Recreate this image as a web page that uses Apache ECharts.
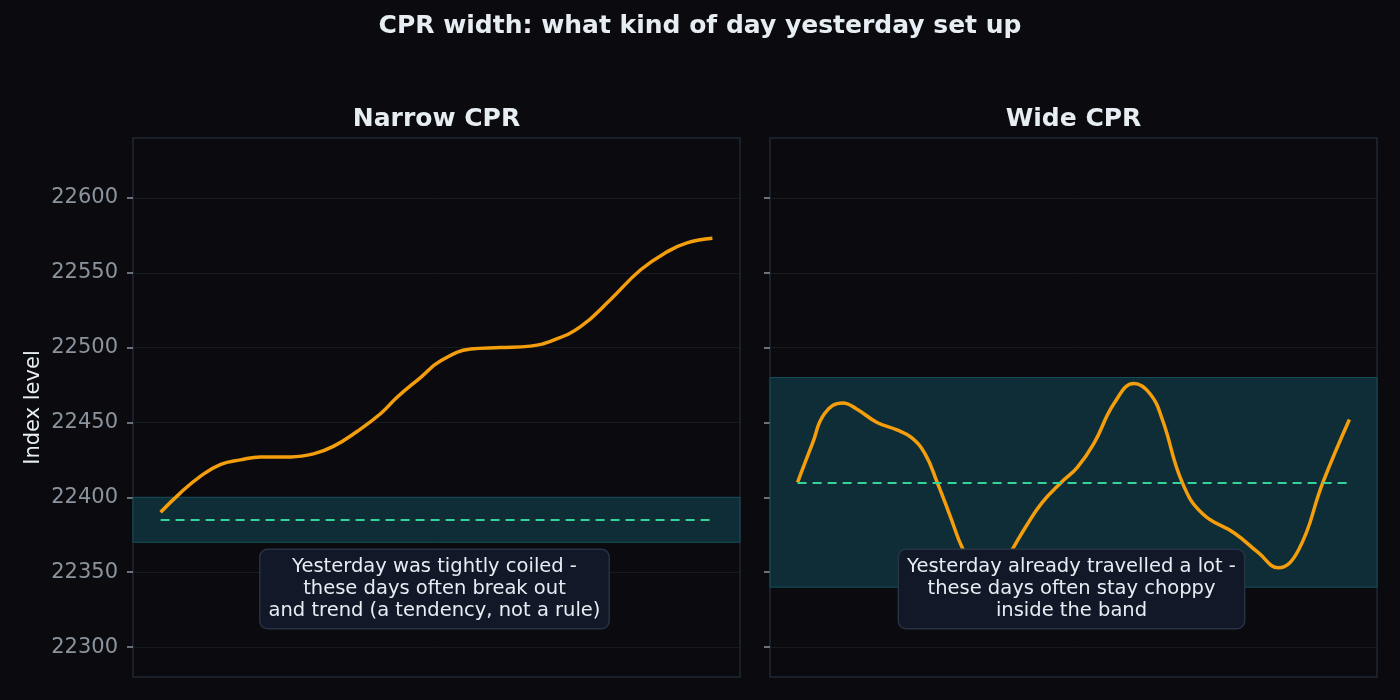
<!DOCTYPE html>
<html>
<head>
<meta charset="utf-8">
<script src="https://cdn.jsdelivr.net/npm/echarts@6/dist/echarts.min.js"></script>
<style>
  html, body { margin: 0; padding: 0; background: #0b0b0f; }
  #chart { width: 1400px; height: 700px; }
</style>
</head>
<body>
<div id="chart"></div>
<script>
// session progress (0..100) and index level
var narrowSteps = [0, 3.6, 7.2, 10.9, 14.5, 18.1, 23.6, 27.7, 31.3, 35.6, 39.9, 42.9, 47.1, 50.7,
                   56.2, 61.6, 67, 71.2, 76.1, 81.5, 87, 91.8, 95.4, 100];
var narrowPrice = [22390, 22403, 22414, 22422, 22425, 22427, 22427, 22429, 22434, 22444, 22456, 22467, 22480, 22491,
                   22499, 22500, 22501, 22505, 22514, 22532, 22552, 22564, 22570, 22573];
var wideSteps = [0, 2.7, 4.9, 8.2, 10.7, 14.4, 18, 20.6, 23.1, 25.3, 27.5, 30, 34.4, 38.9, 41.3, 44.2,
                 47.8, 50.7, 53.7, 57.4, 61, 63.9, 66.1, 69.7, 73.4, 79.2, 83.5, 87.1, 90.8, 95.2, 100];
var widePrice = [22410, 22436, 22456, 22463, 22459, 22450, 22445, 22440, 22429, 22410, 22389, 22365, 22336, 22365,
                 22380, 22396, 22410, 22420, 22436, 22463, 22476, 22469, 22452, 22410, 22389, 22376, 22363, 22353,
                 22365, 22410, 22452];
var narrowBand = [22370, 22400];
var narrowPivot = 22385;
var wideBand = [22340, 22480];
var widePivot = 22410;
var yTicks = [22300, 22350, 22400, 22450, 22500, 22550, 22600];
var panelTitles = ['Narrow CPR', 'Wide CPR'];
var notes = [
    'Yesterday was tightly coiled -\nthese days often break out\nand trend (a tendency, not a rule)',
    'Yesterday already travelled a lot -\nthese days often stay choppy\ninside the band'
];

var font = 'DejaVu Sans';
var gridTop = 138, gridBottom = 23, gridW = 607;
var lefts = [133, 770];

function pairs(xs, ys) {
    return xs.map(function (x, i) { return [x, ys[i]]; });
}

function xAxis(i) {
    return { type: 'value', gridIndex: i, min: -5, max: 105, show: false };
}

function yAxis(i) {
    return {
        type: 'value', gridIndex: i, min: 22280, max: 22640, splitNumber: 7,
        name: i === 0 ? 'Index level' : '',
        nameLocation: 'middle', nameGap: 89,
        nameTextStyle: { color: '#e6edf3', fontSize: 21, fontFamily: font },
        axisLine: { show: false, onZero: false },
        axisTick: { show: true, length: 6, customValues: yTicks, lineStyle: { color: '#8b949e', width: 1.5 } },
        axisLabel: {
            show: i === 0, customValues: yTicks, color: '#8b949e', fontSize: 21, fontFamily: font, margin: 15,
            formatter: function (v) { return String(v); }
        },
        splitLine: { show: true, lineStyle: { color: '#161b22', width: 1 } }
    };
}

function series(i, xs, ys, band, pivot) {
    return {
        type: 'line', xAxisIndex: i, yAxisIndex: i,
        data: pairs(xs, ys), smooth: 0.45, symbol: 'none', z: 3,
        lineStyle: { color: '#f59e0b', width: 3.5 },
        markArea: {
            silent: true,
            itemStyle: { color: '#0f2d36', borderColor: '#16505c', borderWidth: 1 },
            data: [[{ yAxis: band[0] }, { yAxis: band[1] }]]
        },
        markLine: {
            silent: true, symbol: 'none', label: { show: false },
            lineStyle: { color: '#34d399', type: [9, 6], width: 2 },
            data: [[{ coord: [xs[0], pivot] }, { coord: [xs[xs.length - 1], pivot] }]]
        }
    };
}

function note(i) {
    return {
        type: 'text', z: 100,
        x: lefts[i] + gridW / 2 - 2, y: 589,
        style: {
            text: notes[i], fill: '#e6edf3', font: '19.5px "DejaVu Sans"',
            align: 'center', verticalAlign: 'middle', lineHeight: 22,
            backgroundColor: '#111827', borderColor: '#273244', borderWidth: 1.5,
            borderRadius: 7, padding: [6, 8]
        }
    };
}

function subTitle(i) {
    return {
        text: panelTitles[i], left: lefts[i] + gridW / 2 - 5, textAlign: 'center', top: 102,
        textStyle: { color: '#e6edf3', fontSize: 25, fontWeight: 'bold', fontFamily: font }
    };
}

var chart = echarts.init(document.getElementById('chart'));
chart.setOption({
    backgroundColor: '#0b0b0f',
    animation: false,
    title: [
        { text: 'CPR width: what kind of day yesterday set up', left: 'center', top: 9,
          textStyle: { color: '#e6edf3', fontSize: 25, fontWeight: 'bold', fontFamily: font } },
        subTitle(0),
        subTitle(1)
    ],
    grid: [
        { left: lefts[0], width: gridW, top: gridTop, bottom: gridBottom, show: true,
          backgroundColor: '#0b0b0f', borderColor: '#1f2933', borderWidth: 1.5 },
        { left: lefts[1], width: gridW, top: gridTop, bottom: gridBottom, show: true,
          backgroundColor: '#0b0b0f', borderColor: '#1f2933', borderWidth: 1.5 }
    ],
    xAxis: [xAxis(0), xAxis(1)],
    yAxis: [yAxis(0), yAxis(1)],
    series: [
        series(0, narrowSteps, narrowPrice, narrowBand, narrowPivot),
        series(1, wideSteps, widePrice, wideBand, widePivot)
    ],
    graphic: [note(0), note(1)]
});
</script>
</body>
</html>
